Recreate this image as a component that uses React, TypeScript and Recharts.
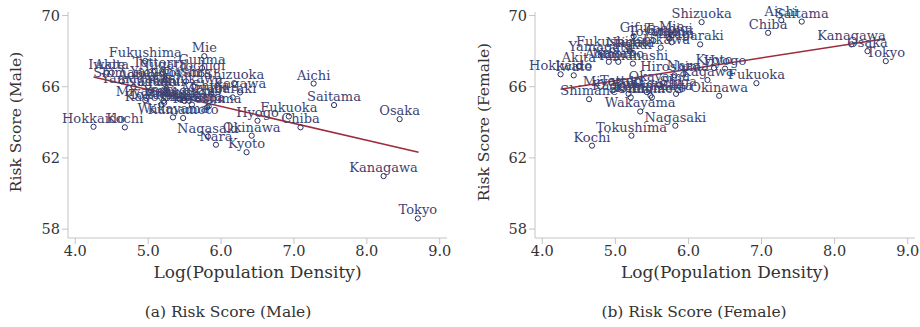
import React from 'react';
import { ScatterChart, Scatter, XAxis, YAxis, ReferenceLine, Label } from 'recharts';

const prefectures = [
  'Hokkaido', 'Aomori', 'Iwate', 'Miyagi', 'Akita', 'Yamagata', 'Fukushima', 'Ibaraki',
  'Tochigi', 'Gunma', 'Saitama', 'Chiba', 'Tokyo', 'Kanagawa', 'Niigata', 'Toyama',
  'Ishikawa', 'Fukui', 'Yamanashi', 'Nagano', 'Gifu', 'Shizuoka', 'Aichi', 'Mie',
  'Shiga', 'Kyoto', 'Osaka', 'Hyogo', 'Nara', 'Wakayama', 'Tottori', 'Shimane',
  'Okayama', 'Hiroshima', 'Yamaguchi', 'Tokushima', 'Kagawa', 'Ehime', 'Kochi', 'Fukuoka',
  'Saga', 'Nagasaki', 'Kumamoto', 'Oita', 'Miyazaki', 'Kagoshima', 'Okinawa',
];

const logDensity = [
  4.25, 4.91, 4.43, 5.77, 4.5, 4.8, 4.96, 6.16,
  5.73, 5.74, 7.55, 7.09, 8.7, 8.23, 5.2, 5.52,
  5.62, 5.24, 5.24, 5.04, 5.25, 6.18, 7.27, 5.77,
  5.86, 6.35, 8.45, 6.5, 5.93, 5.34, 5.09, 4.64,
  5.6, 5.81, 5.43, 5.22, 6.26, 5.5, 4.68, 6.93,
  5.83, 5.82, 5.48, 5.21, 4.96, 5.18, 6.42,
];

const maleScore = [
  63.75, 66.2, 66.8, 65.5, 66.8, 66.0, 67.45, 65.4,
  66.7, 67.05, 64.97, 63.72, 58.6, 60.98, 66.8, 66.3,
  66.0, 65.8, 66.4, 65.8, 65.9, 66.2, 66.18, 67.72,
  65.6, 62.32, 64.18, 64.09, 62.74, 64.28, 66.9, 66.3,
  65.0, 64.85, 65.3, 65.1, 65.68, 65.2, 63.72, 64.33,
  64.9, 63.2, 64.24, 65.2, 65.25, 65.0, 63.25,
];

const femaleScore = [
  66.7, 67.4, 66.64, 68.5, 67.15, 67.76, 68.04, 68.38,
  68.8, 68.7, 69.66, 69.03, 67.44, 68.38, 68.0, 68.6,
  68.2, 67.9, 67.3, 67.4, 68.84, 69.63, 69.74, 68.9,
  65.8, 67.05, 68.0, 67.02, 66.7, 64.61, 65.9, 65.3,
  66.1, 66.64, 65.7, 63.25, 66.38, 65.4, 62.69, 66.2,
  65.6, 63.81, 65.5, 65.4, 65.8, 65.6, 65.49,
];

// fitted regression lines (end points)
const maleFit = [{ x: 4.25, y: 66.55 }, { x: 8.71, y: 62.32 }];
const femaleFit = [{ x: 4.25, y: 65.86 }, { x: 8.69, y: 68.7 }];

const xTicks = [4, 5, 6, 7, 8, 9];
const yTicks = [58, 62, 66, 70];

const FONT = "'DejaVu Serif', serif";

const maleData = prefectures.map((name, i) => ({ name, x: logDensity[i], y: maleScore[i] }));
const femaleData = prefectures.map((name, i) => ({ name, x: logDensity[i], y: femaleScore[i] }));

const LabeledPoint = (props: any) => {
  const { cx, cy, payload } = props;
  return (
    <g>
      <circle cx={cx} cy={cy} r={2.6} fill="none" stroke="#27305f" strokeWidth={1} />
      <text x={cx} y={cy - 4} textAnchor="middle" fontFamily={FONT} fontSize={13} fill="#3d4372">
        {payload.name}
      </text>
    </g>
  );
};

interface PanelProps {
  data: { name: string; x: number; y: number }[];
  fit: { x: number; y: number }[];
  yLabel: string;
  caption: string;
  left: number;
  yAxisWidth: number;
  rightMargin: number;
  yLabelX: number;
  captionCenter: number;
}

const Panel: React.FC<PanelProps> = ({ data, fit, yLabel, caption, left, yAxisWidth, rightMargin, yLabelX, captionCenter }) => (
  <div style={{ position: 'absolute', left, top: 0, width: 460, height: 327 }}>
    <ScatterChart width={460} height={327} margin={{ top: 12, right: rightMargin, left: 0, bottom: 49 }}>
      <XAxis
        type="number"
        dataKey="x"
        domain={[3.9, 9.1]}
        ticks={xTicks}
        tickFormatter={(v: number) => v.toFixed(1)}
        height={40}
        axisLine={{ stroke: '#c4c4c4' }}
        tickLine={{ stroke: '#c4c4c4' }}
        tick={{ fill: '#333', fontFamily: FONT, fontSize: 14.5 }}
      >
        <Label value="Log(Population Density)" position="insideBottom" offset={0} fill="#333" fontFamily={FONT} fontSize={17} />
      </XAxis>
      <YAxis
        type="number"
        dataKey="y"
        domain={[57.5, 70.2]}
        ticks={yTicks}
        width={yAxisWidth}
        axisLine={{ stroke: '#c4c4c4' }}
        tickLine={{ stroke: '#c4c4c4' }}
        tick={{ fill: '#333', fontFamily: FONT, fontSize: 14.5 }}
      >
        <Label
          content={(p: any) => {
            const vb = p.viewBox || { y: 12, height: 226 };
            const cy = vb.y + vb.height / 2 - 3;
            return (
              <text
                x={yLabelX}
                y={cy}
                transform={`rotate(-90, ${yLabelX}, ${cy})`}
                textAnchor="middle"
                dominantBaseline="central"
                fontFamily={FONT}
                fontSize={15.5}
                fill="#333"
              >
                {yLabel}
              </text>
            );
          }}
        />
      </YAxis>
      <Scatter data={data} shape={LabeledPoint} isAnimationActive={false} />
      <ReferenceLine segment={fit} stroke="#9e2b3b" strokeWidth={1.5} ifOverflow="visible" />
    </ScatterChart>
    <div
      style={{
        position: 'absolute',
        top: 302,
        left: captionCenter - 150,
        width: 300,
        textAlign: 'center',
        fontFamily: FONT,
        fontSize: 15.5,
        lineHeight: '20px',
        color: '#333',
      }}
    >
      {caption}
    </div>
  </div>
);

export default function App() {
  return (
    <div style={{ position: 'absolute', left: 0, top: 0, width: 920, height: 327, background: '#fff' }}>
      <Panel
        data={maleData}
        fit={maleFit}
        yLabel="Risk Score (Male)"
        caption="(a) Risk Score (Male)"
        left={0}
        yAxisWidth={68}
        rightMargin={13}
        yLabelX={16}
        captionCenter={228}
      />
      <Panel
        data={femaleData}
        fit={femaleFit}
        yLabel="Risk Score (Female)"
        caption="(b) Risk Score (Female)"
        left={460}
        yAxisWidth={75}
        rightMargin={5}
        yLabelX={24}
        captionCenter={234}
      />
    </div>
  );
}
